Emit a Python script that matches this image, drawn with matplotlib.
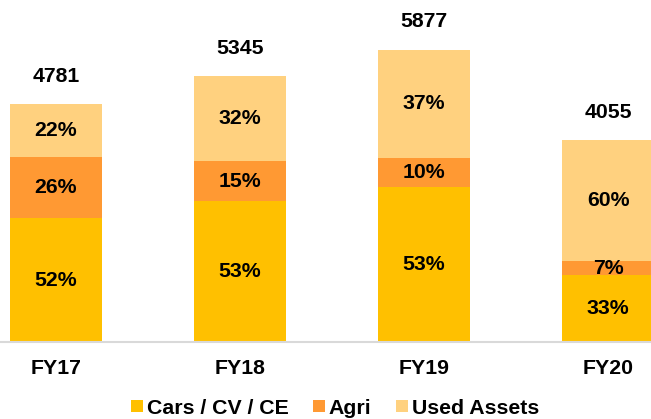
import matplotlib
matplotlib.use("Agg")
import matplotlib.pyplot as plt
from matplotlib.patches import Patch
import numpy as np

categories = ["FY17", "FY18", "FY19", "FY20"]
totals = [4781, 5345, 5877, 4055]
cars_pct = [52, 53, 53, 33]
agri_pct = [26, 15, 10, 7]
used_pct = [22, 32, 37, 60]
series_names = ["Cars / CV / CE", "Agri", "Used Assets"]
colors = ["#FFC000", "#FF9933", "#FFD17F"]

plt.rcParams['font.family'] = ['Liberation Sans', 'DejaVu Sans']
FS = 15.3

fig = plt.figure(figsize=(6.51, 4.19), dpi=100)
ax = fig.add_axes([0, 77 / 419, 1, 342 / 419])

x = np.arange(len(categories))
totals_a = np.array(totals, dtype=float)
pcts = [np.array(cars_pct), np.array(agri_pct), np.array(used_pct)]
bottom = np.zeros(len(categories))
for pct, col, name in zip(pcts, colors, series_names):
    h = totals_a * pct / 100.0
    ax.bar(x, h, 0.5, bottom=bottom, color=col, label=name, linewidth=0)
    for xi, b, hh, p in zip(x, bottom, h, pct):
        ax.text(xi, b + hh / 2, f"{p}%", ha="center", va="center",
                fontsize=FS, fontweight="bold", color="black")
    bottom += h

for xi, t in zip(x, totals):
    ax.annotate(str(t), (xi, t), xytext=(0, 20), textcoords="offset points",
                ha="center", va="center", fontsize=FS, fontweight="bold")

ax.set_xlim(-56 / 184, (651 - 56) / 184)
ax.set_ylim(0, 342 / 0.04974)
ax.set_xticks(x)
ax.set_xticklabels(categories, fontsize=FS, fontweight="bold")
ax.tick_params(axis="x", length=0, pad=12)
ax.set_yticks([])
for s in ["top", "left", "right"]:
    ax.spines[s].set_visible(False)
ax.spines["bottom"].set_color("#D9D9D9")
ax.spines["bottom"].set_linewidth(1.5)

handles = [Patch(facecolor=c, edgecolor="none") for c in colors]
fig.legend(handles, series_names, loc="center", bbox_to_anchor=(335 / 651, 1 - 408 / 419),
           ncol=3, frameon=False, prop={"size": FS, "weight": "bold"},
           handlelength=0.55, handleheight=0.55, handletextpad=0.2,
           columnspacing=1.15, borderaxespad=0, borderpad=0)

fig.savefig("out.png", dpi=100)
